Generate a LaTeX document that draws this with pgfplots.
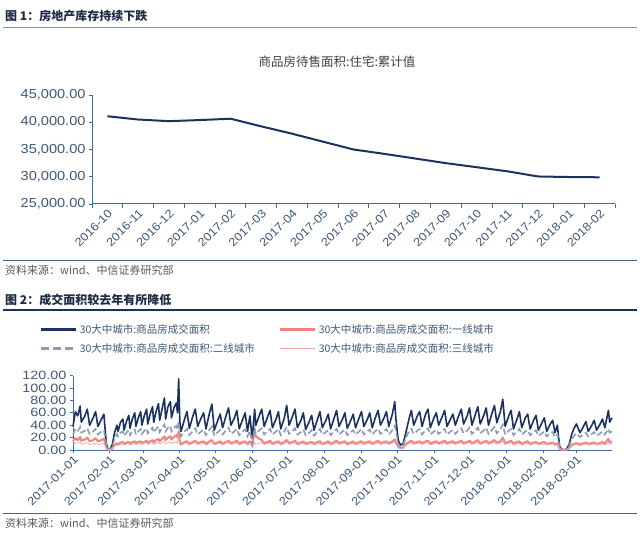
\documentclass[border=0pt]{standalone}
\usepackage{fontspec}
\setmainfont{Liberation Sans}
\newfontfamily\cjk{Noto Sans CJK SC}
\newfontfamily\tickfont{Liberation Sans}[FakeStretch=1.12]
\newfontfamily\widetick{Liberation Sans}[FakeStretch=1.2]
\usepackage{pgfplots}
\usepackage{pgfplotstable}
\pgfplotsset{compat=1.18}

\definecolor{navy}{HTML}{1B3160}
\definecolor{axisblue}{HTML}{3A6DAA}
\definecolor{ticktext}{HTML}{3D5878}
\definecolor{dashgray}{HTML}{8A9BB3}
\definecolor{coral}{HTML}{F2837E}
\definecolor{lightcoral}{HTML}{F5A3A3}
\definecolor{rulegray}{HTML}{8C939C}
\definecolor{sepblue}{HTML}{4D6480}
\definecolor{headtext}{HTML}{1F2A44}
\definecolor{titletext}{HTML}{404040}
\definecolor{srctext}{HTML}{595959}

% 商品房待售面积:住宅:累计值 (万平方米)
\pgfplotstableread{
idx val
0 41100
1 40500
2 40200
3 40400
4 40650
5 39250
6 37900
7 36450
8 35000
9 34200
10 33350
11 32500
12 31750
13 31000
14 30050
15 29950
16 29900
}\stocktab

% days since 2017-01-01; total, tier1, tier2, tier3
\pgfplotstableread{
d T F S R
0 38 14 25 9
2 62 19 34 11
4 55 16 31 11
6 71 21 37 13
7 45 15 28 9
10 55 17 31 11
12 66 20 35 12
14 40 14 26 9
17 52 16 30 10
19 62 19 34 11
21 38 14 25 9
24 50 16 30 10
26 58 18 32 11
27 35 12 22 7
28 12 4 8 3
29 3 1 2 1
31 1 0 1 0
33 8 2 4 2
35 28 8 18 6
37 40 11 26 9
38 30 9 22 7
40 45 12 28 9
42 50 13 30 10
43 32 10 23 8
45 46 12 28 10
47 56 13 32 11
48 35 10 24 8
50 50 13 30 10
52 60 14 33 11
53 38 11 25 9
55 52 13 30 10
57 62 14 34 11
58 40 11 26 9
60 55 13 31 11
62 66 15 35 12
63 42 11 27 9
65 58 14 32 11
67 70 16 36 12
68 45 12 28 9
70 62 16 34 11
72 75 18 38 13
73 48 14 29 10
75 66 18 35 12
77 84 22 41 14
78 50 16 30 10
80 70 20 36 12
82 78 22 39 13
83 52 17 30 10
85 68 21 36 12
87 76 24 39 13
88 60 20 33 11
89 115 30 46 20
90 45 14 28 9
91 30 9 22 8
94 50 13 30 10
96 62 14 34 11
98 35 10 24 8
101 55 13 31 11
103 66 15 35 12
105 38 11 25 9
108 52 13 30 10
110 60 14 33 11
112 34 10 24 8
115 60 14 33 11
117 74 16 38 13
119 32 10 23 8
122 48 12 29 10
124 58 14 32 11
126 36 10 25 8
129 56 13 32 11
131 68 15 36 12
133 40 11 26 9
136 52 13 30 10
138 64 15 34 12
140 34 10 24 8
143 50 13 30 10
145 60 14 33 11
147 30 10 22 8
149 55 14 31 11
151 18 8 10 4
153 66 30 35 12
154 40 22 26 9
157 56 18 32 11
159 66 16 35 12
161 38 11 25 9
164 54 13 31 10
166 64 15 34 12
168 36 10 25 8
171 50 13 30 10
173 62 14 34 11
175 34 10 24 8
178 52 13 30 10
180 72 16 37 13
182 40 11 26 9
185 55 13 31 11
187 66 15 35 12
189 36 10 25 8
192 48 12 29 10
194 60 14 33 11
196 33 10 24 8
199 46 12 28 10
201 56 13 32 11
203 32 10 23 8
206 50 13 30 10
208 62 14 34 11
210 36 10 25 8
213 48 12 29 10
215 58 14 32 11
217 34 10 24 8
220 52 13 30 10
222 64 15 34 12
224 38 11 25 9
227 50 13 30 10
229 60 14 33 11
231 35 10 24 8
234 48 12 29 10
236 58 14 32 11
238 36 10 25 8
241 52 13 30 10
243 62 14 34 11
245 38 11 25 9
248 50 13 30 10
250 60 14 33 11
252 36 10 25 8
255 54 13 31 10
257 64 15 34 12
259 40 11 26 9
262 52 13 30 10
264 62 14 34 11
266 38 11 25 9
269 58 14 32 11
271 78 17 39 13
272 50 13 30 10
274 15 5 10 3
276 8 3 4 2
278 10 4 7 2
280 25 9 18 7
283 50 13 30 10
285 64 15 34 12
287 40 11 26 9
290 55 13 31 11
292 62 14 34 11
294 38 11 25 9
297 58 14 32 11
299 66 15 35 12
301 36 10 25 8
304 52 13 30 10
306 60 14 33 11
308 40 11 26 9
311 54 13 31 10
313 64 15 34 12
315 38 11 25 9
318 50 13 30 10
320 58 14 32 11
322 40 11 26 9
325 56 13 32 11
327 66 15 35 12
329 42 11 27 9
332 55 13 31 11
334 68 15 36 12
336 40 11 26 9
339 58 14 32 11
341 70 16 36 12
343 42 11 27 9
346 56 13 32 11
348 68 15 36 12
350 40 11 26 9
353 60 14 33 11
355 72 16 37 13
357 44 12 27 9
360 62 14 34 11
362 82 20 41 14
364 38 11 25 9
367 55 13 31 11
369 64 15 34 12
371 34 10 24 8
374 50 13 30 10
376 62 14 34 11
378 36 10 25 8
381 52 13 30 10
383 58 14 32 11
385 34 10 24 8
388 48 12 29 10
390 56 13 32 11
392 32 10 23 8
395 44 12 27 9
397 52 13 30 10
399 30 10 22 8
402 42 11 27 9
404 48 12 29 10
406 28 9 21 7
408 40 11 26 9
409 20 6 13 4
410 5 2 3 1
412 1 0 1 0
414 0 0 0 0
416 2 1 1 0
418 10 3 7 2
420 25 8 17 6
422 35 10 23 8
424 42 11 27 9
427 28 9 21 7
430 38 11 25 9
432 46 12 28 10
434 30 10 22 8
437 40 11 26 9
439 48 12 29 10
441 32 10 23 8
444 42 11 27 9
446 50 13 30 10
448 36 10 25 8
450 55 16 31 11
451 64 18 34 12
452 45 12 28 9
454 52 14 30 10
}\dealtab

\begin{document}
\begin{tikzpicture}
\useasboundingbox (0pt,0pt) rectangle (640pt,539pt);

% ---- figure 1 header ----
\node[anchor=west, inner sep=0pt, text=headtext, font=\cjk\bfseries\fontsize{12}{14}\selectfont] at (5pt,523pt) {图 1：房地产库存持续下跌};
\draw[rulegray, line width=1pt] (3pt,511pt) -- (637pt,511pt);
\node[text=titletext, font=\cjk\fontsize{12.5}{14}\selectfont] at (337pt,477pt) {商品房待售面积:住宅:累计值};

\begin{axis}[
    at={(92pt,335pt)}, anchor=south west,
    scale only axis, width=523pt, height=109pt,
    xmin=-0.5, xmax=16.5, ymin=25000, ymax=45000,
    axis x line*=bottom, axis y line*=left,
    axis line style={axisblue, line width=1pt},
    tick align=outside,
    xtick={0,...,16},
    xticklabels={2016-10,2016-11,2016-12,2017-01,2017-02,2017-03,2017-04,2017-05,2017-06,2017-07,2017-08,2017-09,2017-10,2017-11,2017-12,2018-01,2018-02},
    minor xtick={-0.5,0.5,...,16.5},
    major x tick style={draw=none},
    minor x tick style={axisblue, line width=0.8pt},
    minor tick length=4pt,
    ytick={25000,30000,...,45000},
    y tick style={axisblue, line width=0.8pt},
    major tick length=3pt,
    scaled y ticks=false,
    /pgf/number format/assume math mode=true,
    /pgf/number format/fixed,
    /pgf/number format/fixed zerofill,
    /pgf/number format/precision=2,
    /pgf/number format/1000 sep={,},
    y tick label style={font=\tickfont\fontsize{13}{15}\selectfont, text=ticktext},
    x tick label style={rotate=45, anchor=north east, font=\tickfont\fontsize{11.5}{13}\selectfont, text=ticktext, inner sep=1pt},
    clip=false,
]
\addplot[navy, line width=2pt] table[x=idx, y=val] {\stocktab};
\end{axis}

\draw[sepblue, line width=0.8pt] (3pt,279pt) -- (637pt,279pt);
\node[anchor=west, inner sep=0pt, text=srctext, font=\cjk\fontsize{11}{13}\selectfont] at (5pt,269pt) {资料来源：wind、中信证券研究部};

% ---- figure 2 header ----
\node[anchor=west, inner sep=0pt, text=headtext, font=\cjk\bfseries\fontsize{12}{14}\selectfont] at (5pt,239pt) {图 2：成交面积较去年有所降低};
\draw[navy, line width=1.2pt] (3pt,229pt) -- (637pt,229pt);

\begin{axis}[
    at={(73pt,89pt)}, anchor=south west,
    scale only axis, width=539pt, height=74.3pt,
    xmin=0, xmax=454, ymin=0, ymax=120,
    axis x line*=bottom, axis y line*=left,
    axis line style={axisblue, line width=1pt},
    tick align=outside,
    xtick={0,31,59,90,120,151,181,212,243,273,304,334,365,396,424},
    xticklabels={2017-01-01,2017-02-01,2017-03-01,2017-04-01,2017-05-01,2017-06-01,2017-07-01,2017-08-01,2017-09-01,2017-10-01,2017-11-01,2017-12-01,2018-01-01,2018-02-01,2018-03-01},
    ytick={0,20,...,120},
    tick style={axisblue, line width=0.8pt},
    major tick length=3pt,
    /pgf/number format/assume math mode=true,
    /pgf/number format/fixed,
    /pgf/number format/fixed zerofill,
    /pgf/number format/precision=2,
    y tick label style={font=\widetick\fontsize{12}{12}\selectfont, text=ticktext},
    x tick label style={rotate=45, anchor=north east, font=\tickfont\fontsize{11.5}{13}\selectfont, text=ticktext, inner sep=1pt},
    legend columns=2,
    legend cell align=left,
    legend style={at={(-0.062,1.715)}, anchor=north west, draw=none, fill=none,
        inner sep=0pt, font=\cjk\fontsize{10.5}{12}\selectfont, text=ticktext,
        row sep=4pt,
        /tikz/every even column/.append style={column sep=22pt}},
    legend image code/.code={\draw[#1] (0pt,0pt) -- (35pt,0pt);},
    clip=false,
]
\addplot[navy, line width=1.6pt, line join=round, legend image post style={line width=3pt}] table[x=d, y=T] {\dealtab};
\addlegendentry{30大中城市:商品房成交面积}
\addplot[coral, line width=2pt, line join=round, legend image post style={line width=3pt}] table[x=d, y=F] {\dealtab};
\addlegendentry{30大中城市:商品房成交面积:一线城市}
\addplot[dashgray, line width=1.6pt, dash pattern=on 6pt off 3pt, legend image post style={line width=3pt, dash pattern=on 8pt off 4pt}] table[x=d, y=S] {\dealtab};
\addlegendentry{30大中城市:商品房成交面积:二线城市}
\addplot[lightcoral, line width=0.7pt] table[x=d, y=R] {\dealtab};
\addlegendentry{30大中城市:商品房成交面积:三线城市}
\end{axis}

\draw[sepblue, line width=0.8pt] (3pt,26pt) -- (637pt,26pt);
\node[anchor=west, inner sep=0pt, text=srctext, font=\cjk\fontsize{11}{13}\selectfont] at (5pt,16pt) {资料来源：wind、中信证券研究部};
\end{tikzpicture}
\end{document}
